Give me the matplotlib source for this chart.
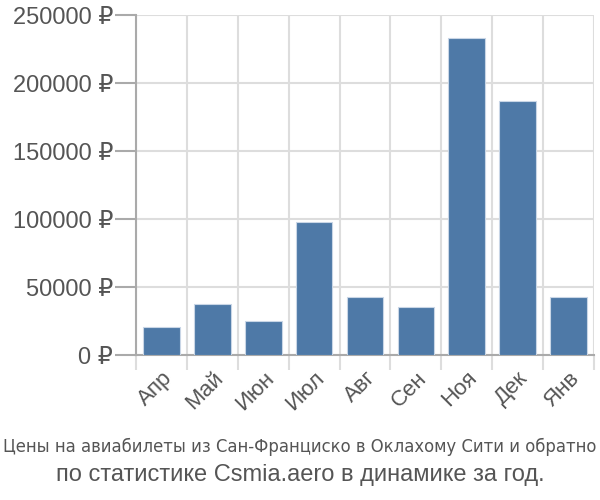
import matplotlib
matplotlib.use("Agg")
import matplotlib.pyplot as plt
from matplotlib.ticker import FixedLocator, FuncFormatter
import numpy as np

months = ["Апр", "Май", "Июн", "Июл", "Авг", "Сен", "Ноя", "Дек", "Янв"]
prices = [20600, 37700, 25000, 98000, 42900, 35000, 233100, 187000, 42400]
yticks = [0, 50000, 100000, 150000, 200000, 250000]
title1 = "Цены на авиабилеты из Сан-Франциско в Оклахому Сити и обратно"
title2 = "по статистике Csmia.aero в динамике за год."

fam = ["Liberation Sans", "DejaVu Sans"]
plt.rcParams['font.family'] = fam

fig = plt.figure(figsize=(6, 5), dpi=100)
ax = fig.add_axes([136/600, 1-355/500, (594-136)/600, (355-15)/500])

x = np.arange(len(months))
ax.bar(x, prices, width=0.72, color="#4e79a7", edgecolor="#c9d6e6", linewidth=0.8, zorder=3)

ax.set_xlim(-0.5, len(months) - 0.5)
ax.set_ylim(0, 250000)

ax.yaxis.set_major_locator(FixedLocator(yticks))
ax.yaxis.set_major_formatter(FuncFormatter(lambda v, p: f"{int(v)} ₽"))
ax.set_xticks(x)
ax.set_xticklabels(months, rotation=45, ha="right", rotation_mode="anchor")
ax.set_xticks(np.arange(-0.5, len(months)), minor=True)

ax.grid(True, axis="y", color="#dddddd", linewidth=1.5, zorder=0)
ax.grid(True, axis="x", which="minor", color="#dddddd", linewidth=1.5, zorder=0)
ax.grid(False, axis="x", which="major")

for s in ["top", "right"]:
    ax.spines[s].set_visible(False)
for s in ["left", "bottom"]:
    ax.spines[s].set_color("#aaaaaa")
    ax.spines[s].set_linewidth(1.5)

ax.tick_params(axis="y", length=15, color="#aaaaaa", width=1.5, labelsize=17, labelcolor="#555555", pad=1.5)
ax.tick_params(axis="x", which="major", length=0, labelsize=16, labelcolor="#555555", pad=9)
ax.tick_params(axis="x", which="minor", length=11, color="#dddddd", width=1.5)

fig.text(0.5, 1-447/500, title1, ha="center", va="center", fontsize=13.15, color="#555555",
         family="DejaVu Sans", fontstretch="condensed")
fig.text(0.5, 1-475/500, title2, ha="center", va="center", fontsize=17, color="#555555")

fig.savefig("out.png", dpi=100)
